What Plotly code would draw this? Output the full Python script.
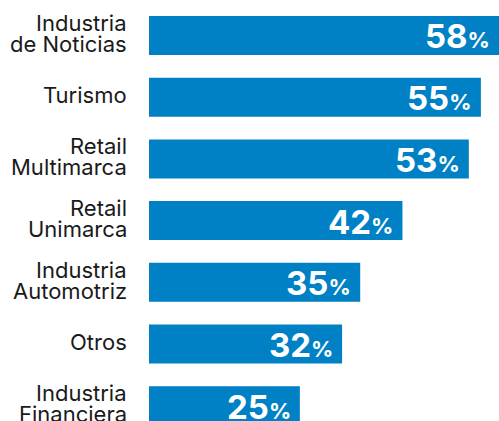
import plotly.graph_objects as go

categories = [
    ["Industria", "de Noticias"],
    ["Turismo"],
    ["Retail", "Multimarca"],
    ["Retail", "Unimarca"],
    ["Industria", "Automotriz"],
    ["Otros"],
    ["Industria", "Financiera"],
]
values = [58, 55, 53, 42, 35, 32, 25]

BLUE = "#0081C6"
ids = [" ".join(c) for c in categories]

fig = go.Figure()
fig.add_trace(go.Bar(
    x=values, y=ids, orientation="h",
    marker=dict(color=BLUE, line=dict(width=0)),
    hoverinfo="skip",
))

annotations = []
for cid, v, lines in zip(ids, values, categories):
    annotations.append(dict(
        x=v, y=cid, xref="x", yref="y", xanchor="right", yanchor="middle",
        xshift=-7, yshift=-1, showarrow=False,
        text=f"<b>{v}<span style='font-size:22px'>%</span></b>",
        font=dict(family="Inter", size=33, color="white"),
    ))
    n = len(lines)
    for i, line in enumerate(lines):
        shift = 0 if n == 1 else (10.5 if i == 0 else -10.5)
        annotations.append(dict(
            x=0, y=cid, xref="paper", yref="y", xanchor="right", yanchor="middle",
            xshift=-20, yshift=shift + 2, showarrow=False, text=line,
            font=dict(family="Inter", size=22, color="#1a1a1a"),
        ))

fig.update_layout(
    width=499, height=421,
    margin=dict(l=149, r=0, t=0, b=0),
    paper_bgcolor="white", plot_bgcolor="white",
    bargap=0.368,
    showlegend=False,
    xaxis=dict(range=[0, 58], visible=False, fixedrange=True),
    yaxis=dict(categoryorder="array", categoryarray=ids,
               range=[6.248, -0.575], showticklabels=False,
               showgrid=False, zeroline=False, fixedrange=True),
    annotations=annotations,
)

fig.write_html(
    "out.html",
    config={"displayModeBar": False},
    post_script="document.body.style.margin='0';document.body.style.overflow='hidden';",
)
